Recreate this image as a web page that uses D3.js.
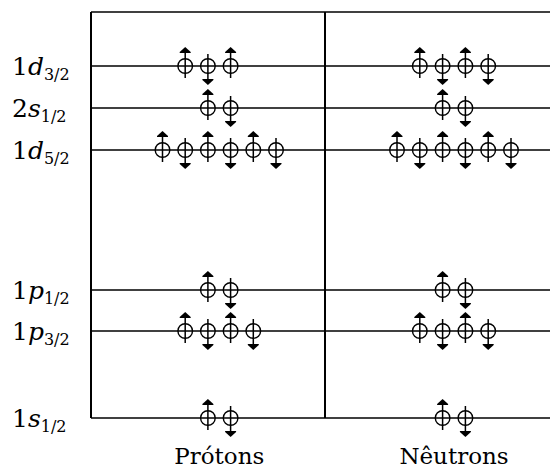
<!DOCTYPE html>
<meta charset="utf-8">
<style>
body { margin: 0; background: #fff; }
</style>
<svg id="chart" width="550" height="472"></svg>
<script src="https://d3js.org/d3.v7.min.js"></script>
<script>

// shell levels, bottom to top
var levelNames = ["1s", "1p", "1p", "1d", "2s", "1d"];
var levelJ     = ["1/2", "3/2", "1/2", "5/2", "1/2", "3/2"];
var levelEnergy = [0, 87, 128, 268, 310, 352];   // arbitrary units
var protonCount  = [2, 4, 2, 6, 2, 3];
var neutronCount = [2, 4, 2, 6, 2, 4];
var columns = ["Prótons", "Nêutrons"];

var serif = "'DejaVu Serif', 'Liberation Serif', serif";
var svg = d3.select("#chart");

var y = d3.scaleLinear().domain([0, 406]).range([418, 12]);
// slot index 0..5 inside each column
var slot = {
  "Prótons":  d3.scaleLinear().domain([0, 5]).range([162.5, 276]),
  "Nêutrons": d3.scaleLinear().domain([0, 5]).range([397, 511])
};

// frame
svg.append("line").attr("x1", 91).attr("x2", 550).attr("y1", y(406)).attr("y2", y(406))
  .attr("stroke", "#000").attr("stroke-width", 1.5);
svg.append("line").attr("x1", 91).attr("x2", 91).attr("y1", y(406)).attr("y2", y(0))
  .attr("stroke", "#000").attr("stroke-width", 2);
svg.append("line").attr("x1", 325).attr("x2", 325).attr("y1", y(406)).attr("y2", y(0))
  .attr("stroke", "#000").attr("stroke-width", 2);

// level lines
svg.selectAll(".level").data(levelEnergy).enter().append("line")
  .attr("class", "level")
  .attr("x1", 91).attr("x2", 550)
  .attr("y1", function(d) { return y(d); })
  .attr("y2", function(d) { return y(d); })
  .attr("stroke", "#000").attr("stroke-width", 1.5);

// level labels
var lab = svg.selectAll(".levLabel").data(levelEnergy).enter().append("text")
  .attr("class", "levLabel")
  .attr("x", 12)
  .attr("y", function(d) { return y(d) + 9; })
  .attr("font-family", serif)
  .attr("font-size", 25);
lab.append("tspan").text(function(d, i) { return levelNames[i].charAt(0); });
lab.append("tspan").attr("font-style", "italic").text(function(d, i) { return levelNames[i].charAt(1); });
lab.append("tspan").attr("dy", 5).attr("font-size", 16)
  .text(function(d, i) { return levelJ[i]; });

// column titles
svg.selectAll(".colTitle").data(columns).enter().append("text")
  .attr("class", "colTitle")
  .attr("x", function(d) { return (slot[d](0) + slot[d](5)) / 2; })
  .attr("y", 464)
  .attr("text-anchor", "middle")
  .attr("font-family", serif)
  .attr("font-size", 23)
  .text(function(d) { return d; });

// particles
var particles = [];
levelEnergy.forEach(function(e, i) {
  [["Prótons", protonCount[i]], ["Nêutrons", neutronCount[i]]].forEach(function(c) {
    var n = c[1], start = 3 - Math.ceil(n / 2);
    for (var k = 0; k < n; k++) {
      particles.push({ col: c[0], energy: e, slot: start + k, up: k % 2 === 0 });
    }
  });
});

var p = svg.selectAll(".particle").data(particles).enter().append("g")
  .attr("class", "particle")
  .attr("transform", function(d) { return "translate(" + slot[d.col](d.slot) + "," + y(d.energy) + ")"; });

p.append("circle").attr("r", 7.3).attr("fill", "none").attr("stroke", "#000").attr("stroke-width", 1.4);
p.append("line")
  .attr("x1", 0).attr("x2", 0)
  .attr("y1", function(d) { return d.up ? 12 : -12; })
  .attr("y2", function(d) { return d.up ? -13 : 13; })
  .attr("stroke", "#000").attr("stroke-width", 1.5);
p.append("path")
  .attr("d", function(d) {
    return d.up ? "M-5.5,-13 L5.5,-13 L5.5,-14 L0,-19 L-5.5,-14 Z"
                : "M-5.5,13 L5.5,13 L5.5,14 L0,19 L-5.5,14 Z";
  })
  .attr("fill", "#000");

</script>
